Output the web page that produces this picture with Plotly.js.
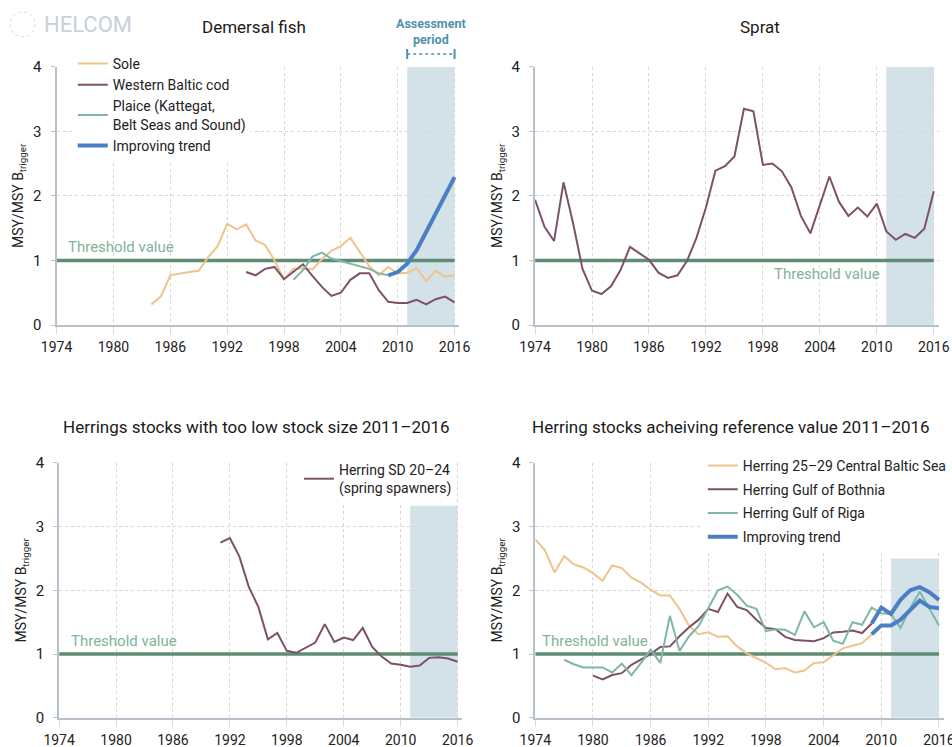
<!DOCTYPE html>
<html><head><meta charset="utf-8">
<script src="https://cdn.plot.ly/plotly-3.0.1.min.js"></script>
<style>body{margin:0;background:#fff}#chart{width:952px;height:747px}</style>
</head><body><div id="chart"></div><script>
// ---------- data ----------
const tickYears = [1974, 1980, 1986, 1992, 1998, 2004, 2010, 2016];
const tickValuesY = [0, 1, 2, 3, 4];
const thresholdValue = 1;
const assessmentStart = 2011, assessmentEnd = 2016;

// Demersal fish
const soleYears = [1984,1985,1986,1987,1988,1989,1990,1991,1992,1993,1994,1995,1996,1997,1998,1999,2000,2001,2002,2003,2004,2005,2006,2007,2008,2009,2010,2011,2012,2013,2014,2015,2016];
const soleValues = [0.32,0.44,0.77,0.80,0.82,0.84,1.05,1.22,1.57,1.48,1.56,1.31,1.24,1.00,0.71,0.87,0.88,0.86,1.02,1.15,1.22,1.35,1.12,0.91,0.77,0.90,0.80,0.81,0.88,0.68,0.84,0.75,0.77];
const codYears = [1994,1995,1996,1997,1998,1999,2000,2001,2002,2003,2004,2005,2006,2007,2008,2009,2010,2011,2012,2013,2014,2015,2016];
const codValues = [0.82,0.77,0.87,0.90,0.71,0.82,0.94,0.76,0.59,0.45,0.50,0.70,0.80,0.80,0.54,0.36,0.34,0.34,0.39,0.32,0.40,0.44,0.35];
const plaiceYears = [1999,2000,2001,2002,2003,2004,2005,2006,2007,2008,2009];
const plaiceValues = [0.70,0.85,1.06,1.12,1.03,0.99,0.95,0.91,0.87,0.80,0.77];
const plaiceTrendYears = [2009,2010,2011,2012,2013,2014,2015,2016];
const plaiceTrendValues = [0.77,0.82,0.95,1.16,1.44,1.72,2.01,2.29];

// Sprat
const spratYears = [1974,1975,1976,1977,1978,1979,1980,1981,1982,1983,1984,1985,1986,1987,1988,1989,1990,1991,1992,1993,1994,1995,1996,1997,1998,1999,2000,2001,2002,2003,2004,2005,2006,2007,2008,2009,2010,2011,2012,2013,2014,2015,2016];
const spratValues = [1.94,1.52,1.30,2.21,1.58,0.87,0.53,0.48,0.60,0.85,1.21,1.11,1.01,0.81,0.73,0.77,0.99,1.35,1.82,2.39,2.46,2.61,3.35,3.31,2.48,2.50,2.38,2.13,1.69,1.42,1.87,2.30,1.91,1.69,1.82,1.68,1.88,1.45,1.32,1.41,1.35,1.49,2.07];

// Herring SD 20-24
const sd2024Years = [1991,1992,1993,1994,1995,1996,1997,1998,1999,2000,2001,2002,2003,2004,2005,2006,2007,2008,2009,2010,2011,2012,2013,2014,2015,2016];
const sd2024Values = [2.75,2.82,2.53,2.05,1.74,1.23,1.33,1.05,1.02,1.10,1.18,1.47,1.19,1.26,1.22,1.41,1.11,0.96,0.85,0.83,0.80,0.82,0.94,0.95,0.93,0.88];

// Herring achieving reference value
const centralYears = [1974,1975,1976,1977,1978,1979,1980,1981,1982,1983,1984,1985,1986,1987,1988,1989,1990,1991,1992,1993,1994,1995,1996,1997,1998,1999,2000,2001,2002,2003,2004,2005,2006,2007,2008,2009];
const centralValues = [2.80,2.63,2.28,2.54,2.41,2.36,2.27,2.15,2.39,2.35,2.20,2.12,2.01,1.92,1.92,1.71,1.44,1.31,1.34,1.27,1.28,1.12,1.01,0.93,0.86,0.76,0.78,0.71,0.74,0.86,0.87,0.98,1.09,1.13,1.17,1.31];
const centralTrendYears = [2009,2010,2011,2012,2013,2014,2015,2016];
const centralTrendValues = [1.31,1.45,1.45,1.54,1.69,1.84,1.74,1.72];
const bothniaYears = [1980,1981,1982,1983,1984,1985,1986,1987,1988,1989,1990,1991,1992,1993,1994,1995,1996,1997,1998,1999,2000,2001,2002,2003,2004,2005,2006,2007,2008,2009];
const bothniaValues = [0.66,0.60,0.67,0.70,0.83,0.91,1.00,1.11,1.12,1.28,1.42,1.54,1.71,1.66,1.95,1.74,1.69,1.54,1.41,1.39,1.27,1.22,1.21,1.20,1.25,1.34,1.35,1.37,1.33,1.48];
const bothniaTrendYears = [2009,2010,2011,2012,2013,2014,2015,2016];
const bothniaTrendValues = [1.48,1.73,1.63,1.85,2.00,2.05,1.97,1.85];
const rigaYears = [1977,1978,1979,1980,1981,1982,1983,1984,1985,1986,1987,1988,1989,1990,1991,1992,1993,1994,1995,1996,1997,1998,1999,2000,2001,2002,2003,2004,2005,2006,2007,2008,2009,2010,2011,2012,2013,2014,2015,2016];
const rigaValues = [0.91,0.84,0.79,0.79,0.79,0.71,0.85,0.67,0.86,1.07,0.86,1.60,1.05,1.28,1.44,1.72,2.00,2.06,1.93,1.76,1.71,1.36,1.39,1.38,1.30,1.67,1.42,1.50,1.21,1.16,1.50,1.46,1.73,1.64,1.63,1.41,1.72,1.98,1.72,1.45];

const shadeTops = [4, 4, 3.33, 2.5];

// ---------- styles ----------
const FONT = 'Roboto, "Noto Sans", sans-serif';
const C_ORANGE = '#f1c38c', C_PURPLE = '#7d5269', C_GREEN = '#7fb6a5', C_BLUE = '#4a7fc6';
const C_THRESH = '#5f8d74', C_THRESH_TXT = '#80b49a', C_SHADE = '#d3e1e9', C_ASSESS = '#4f91ad';

function line(x, y, name, color, width, xa, ya, legend, showlegend, group) {
  return {x: x, y: y, name: name, type: 'scatter', mode: 'lines',
    line: {color: color, width: width}, xaxis: xa, yaxis: ya,
    legend: legend, showlegend: showlegend, legendgroup: group || name, hoverinfo: 'skip'};
}
function thresh(xa, ya) {
  return line([tickYears[0], tickYears[tickYears.length-1]], [thresholdValue, thresholdValue],
    'Threshold value', C_THRESH, 3.5, xa, ya, 'legend', false, 'thr');
}

const traces = [
  thresh('x', 'y'),
  line(soleYears, soleValues, 'Sole', C_ORANGE, 2, 'x', 'y', 'legend', true, 'a'),
  line(codYears, codValues, 'Western Baltic cod', C_PURPLE, 2, 'x', 'y', 'legend', true, 'a'),
  line(plaiceYears, plaiceValues, 'Plaice (Kattegat,<br>Belt Seas and Sound)', C_GREEN, 2, 'x', 'y', 'legend', true, 'a'),
  line(plaiceTrendYears, plaiceTrendValues, 'Improving trend', C_BLUE, 4, 'x', 'y', 'legend', true, 'a'),

  thresh('x2', 'y2'),
  line(spratYears, spratValues, 'Sprat', C_PURPLE, 2, 'x2', 'y2', 'legend2', false),

  thresh('x3', 'y3'),
  line(sd2024Years, sd2024Values, 'Herring SD 20–24<br>(spring spawners)', C_PURPLE, 2, 'x3', 'y3', 'legend3', true),

  thresh('x4', 'y4'),
  line(centralYears, centralValues, 'Herring 25–29 Central Baltic Sea', C_ORANGE, 2, 'x4', 'y4', 'legend4', true, 'g1'),
  line(bothniaYears, bothniaValues, 'Herring Gulf of Bothnia', C_PURPLE, 2, 'x4', 'y4', 'legend4', true, 'g2'),
  line(rigaYears, rigaValues, 'Herring Gulf of Riga', C_GREEN, 2, 'x4', 'y4', 'legend4', true, 'g3'),
  line(bothniaTrendYears, bothniaTrendValues, 'Improving trend', C_BLUE, 4, 'x4', 'y4', 'legend4', true, 'g4'),
  line(centralTrendYears, centralTrendValues, 'Improving trend', C_BLUE, 4, 'x4', 'y4', 'legend4', false, 'g4')
];

function xax(domain, anchor) {
  return {domain: domain, anchor: anchor, range: [1974, 2016.5], tickmode: 'array', tickvals: tickYears,
    showgrid: true, gridcolor: '#d6d6d6', griddash: 'dot', gridwidth: 1,
    showline: true, linecolor: '#b7c1cb', linewidth: 2, zeroline: false,
    ticks: 'outside', ticklen: 7, tickcolor: '#d6dbe0', tickwidth: 1, ticklabelstandoff: 1,
    ticklabeloverflow: 'allow',
    tickfont: {family: FONT, size: 14, color: '#222'}, fixedrange: true};
}
function yax(domain, anchor) {
  return {domain: domain, anchor: anchor, range: [0, 4], tickmode: 'array', tickvals: tickValuesY,
    showgrid: true, gridcolor: '#d6d6d6', griddash: 'dot', gridwidth: 1,
    showline: true, linecolor: '#b7c1cb', linewidth: 2, zeroline: false,
    ticks: 'outside', ticklen: 4, tickcolor: '#b7c1cb', ticklabelstandoff: 6,
    tickfont: {family: FONT, size: 15, color: '#222'},
    title: {text: 'MSY/MSY B<sub>trigger</sub>', font: {family: FONT, size: 14, color: '#222'}, standoff: 6},
    fixedrange: true};
}

const topY = [0.5649, 0.9107], botY = [0.0392, 0.3802];
const legendBase = {bgcolor: '#ffffff', borderwidth: 0, font: {family: FONT, size: 14, color: '#222'},
  xanchor: 'left', yanchor: 'top', itemwidth: 30, tracegroupgap: 0, itemclick: false, itemdoubleclick: false};

function shade(xr, yr, top) {
  return {type: 'rect', xref: xr, yref: yr, x0: assessmentStart, x1: assessmentEnd, y0: 0, y1: top,
    fillcolor: C_SHADE, line: {width: 0}, layer: 'below'};
}
function title(text, x, y) {
  return {text: text, xref: 'paper', yref: 'paper', x: x, y: y, xanchor: 'center', yanchor: 'middle',
    showarrow: false, font: {family: FONT, size: 17, color: '#1a1a1a'}};
}
function thrLabel(xr, yr, x, xanchor, above) {
  return {text: 'Threshold value', xref: xr, yref: yr, x: x, y: thresholdValue, xanchor: xanchor,
    yanchor: above ? 'bottom' : 'top', yshift: above ? 2 : -3, showarrow: false,
    font: {family: FONT, size: 15, color: C_THRESH_TXT}};
}

const layout = {
  width: 952, height: 747, margin: {l: 0, r: 0, t: 0, b: 0},
  paper_bgcolor: '#ffffff', plot_bgcolor: 'rgba(0,0,0,0)',
  font: {family: FONT}, showlegend: true,
  xaxis: xax([0.0596, 0.4840], 'y'), yaxis: yax(topY, 'x'),
  xaxis2: xax([0.5638, 0.9890], 'y2'), yaxis2: yax(topY, 'x2'),
  xaxis3: xax([0.0623, 0.4872], 'y3'), yaxis3: yax(botY, 'x3'),
  xaxis4: xax([0.5641, 0.9945], 'y4'), yaxis4: yax(botY, 'x4'),
  legend: Object.assign({}, legendBase, {x: 73/952, y: 1-48/747}),
  legend2: Object.assign({}, legendBase, {x: 0.9, y: 0.9, visible: false}),
  legend3: Object.assign({}, legendBase, {x: 0.315, y: 1-454/747}),
  legend4: Object.assign({}, legendBase, {x: 705/952, y: 1-450/747, tracegroupgap: 2.5}),
  shapes: [
    shade('x', 'y', shadeTops[0]), shade('x2', 'y2', shadeTops[1]),
    shade('x3', 'y3', shadeTops[2]), shade('x4', 'y4', shadeTops[3]),
    {type: 'line', xref: 'x', yref: 'paper', x0: assessmentStart, x1: assessmentEnd, y0: 0.9277, y1: 0.9277,
      line: {color: C_ASSESS, width: 1.5, dash: 'dot'}},
    {type: 'line', xref: 'x', yref: 'paper', x0: assessmentStart, x1: assessmentStart, y0: 0.9210, y1: 0.9344,
      line: {color: C_ASSESS, width: 2}},
    {type: 'line', xref: 'x', yref: 'paper', x0: assessmentEnd, x1: assessmentEnd, y0: 0.9210, y1: 0.9344,
      line: {color: C_ASSESS, width: 2}},
    {type: 'circle', xref: 'paper', yref: 'paper', x0: 10/952, x1: 35/952, y0: 1-37/747, y1: 1-12/747,
      line: {color: '#d4dade', width: 1, dash: 'dot'}}
  ],
  annotations: [
    {text: 'HELCOM', xref: 'paper', yref: 'paper', x: 42/952, y: 1-25/747, xanchor: 'left', yanchor: 'middle',
      showarrow: false, font: {family: FONT, size: 22, color: '#c9d0d6'}},
    {text: '<b>Assessment<br>period</b>', xref: 'x', yref: 'paper', x: (assessmentStart + assessmentEnd) / 2,
      y: 1-32/747, xanchor: 'center', yanchor: 'middle', showarrow: false,
      font: {family: FONT, size: 12.5, color: C_ASSESS}},
    title('Demersal fish', 255/952, 1-27/747),
    title('Sprat', 762/952, 1-27/747),
    title('Herrings stocks with too low stock size 2011–2016', 257/952, 1-427/747),
    title('Herring stocks acheiving reference value 2011–2016', 733/952, 1-427/747),
    thrLabel('x', 'y', 1975, 'left', true),
    thrLabel('x2', 'y2', 2010.5, 'right', false),
    thrLabel('x3', 'y3', 1975, 'left', true),
    thrLabel('x4', 'y4', 1974.5, 'left', true)
  ]
};

Plotly.newPlot('chart', traces, layout, {displayModeBar: false, staticPlot: true});
</script></body></html>
